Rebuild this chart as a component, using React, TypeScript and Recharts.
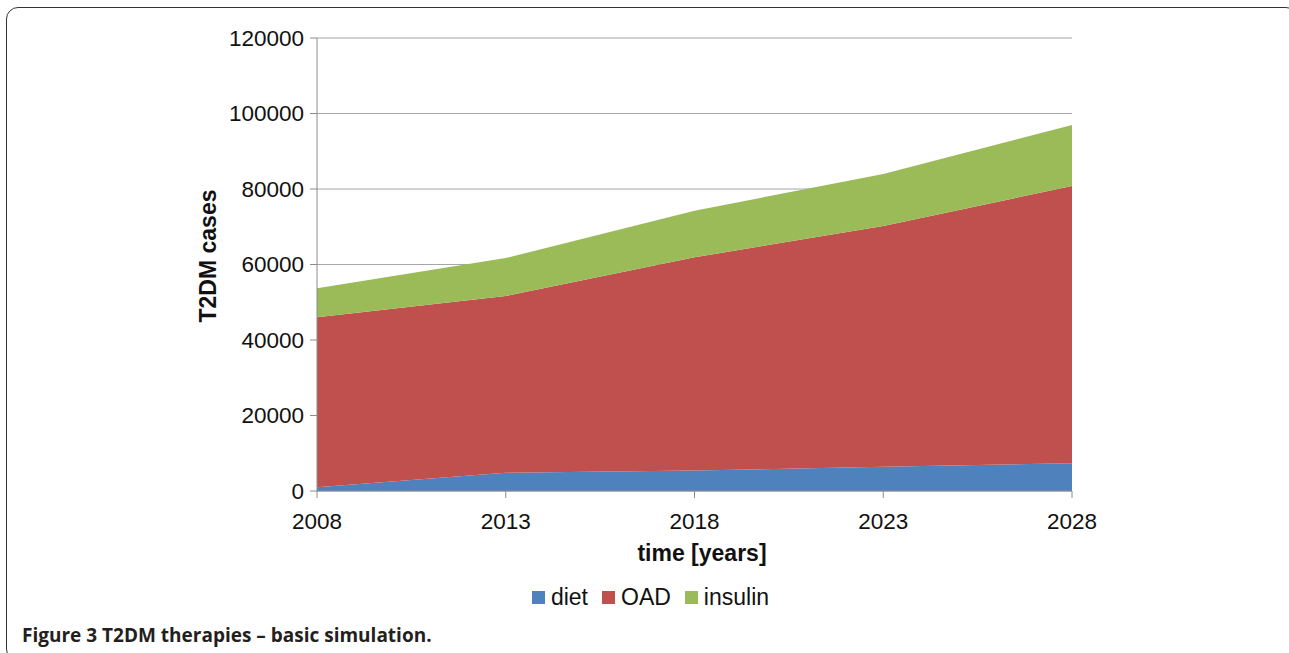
import React from 'react';
import { Area, AreaChart, CartesianGrid, Label, Legend, XAxis, YAxis } from 'recharts';

const YEARS = ['2008', '2013', '2018', '2023', '2028'];
const DIET = [1000, 4850, 5400, 6400, 7350];
const OAD = [45000, 46800, 56500, 63800, 73450];
const INSULIN = [7700, 10050, 12350, 13770, 16150];
const Y_TICKS = [0, 20000, 40000, 60000, 80000, 100000, 120000];

const SERIES = [
    { key: 'diet', name: 'diet', color: '#4f81bd' },
    { key: 'OAD', name: 'OAD', color: '#c0504d' },
    { key: 'insulin', name: 'insulin', color: '#9bbb59' },
];

const data = YEARS.map((year, i) => ({
    year,
    diet: DIET[i],
    OAD: OAD[i],
    insulin: INSULIN[i],
}));

const FONT = '"Liberation Sans", Arial, sans-serif';

function renderLegend() {
    return (
        <div
            style={{
                display: 'flex',
                justifyContent: 'center',
                alignItems: 'center',
                fontFamily: FONT,
                fontSize: 23,
                color: '#111',
            }}
        >
            {SERIES.map((s, i) => (
                <div
                    key={s.key}
                    style={{ display: 'flex', alignItems: 'center', marginLeft: i === 0 ? 0 : 14 }}
                >
                    <span style={{ width: 13, height: 13, background: s.color, marginRight: 6, display: 'inline-block' }} />
                    <span>{s.name}</span>
                </div>
            ))}
        </div>
    );
}

export default function App() {
    return (
        <div
            style={{
                position: 'absolute',
                left: 0,
                top: 0,
                width: 1289,
                height: 653,
                overflow: 'hidden',
                background: '#fff',
            }}
        >
            <div
                style={{
                    position: 'absolute',
                    left: 6,
                    top: 7,
                    width: 1290,
                    height: 652,
                    border: '1.5px solid #333',
                    borderRadius: 12,
                }}
            />
            <div style={{ position: 'absolute', left: 0, top: 0 }}>
                <AreaChart
                    width={1289}
                    height={653}
                    data={data}
                    margin={{ top: 38, right: 217, left: 217, bottom: 82 }}
                >
                    <CartesianGrid vertical={false} stroke="#a6a6a6" strokeWidth={1} />
                    <XAxis
                        dataKey="year"
                        height={80}
                        stroke="#8c8c8c"
                        tickSize={7}
                        tickMargin={15}
                        tick={{ fill: '#111', fontSize: 22.5, fontFamily: FONT }}
                    >
                        <Label
                            content={(props: any) => {
                                const vb = props.viewBox;
                                return (
                                    <text
                                        x={vb.x + vb.width / 2 + 7.5}
                                        y={553}
                                        textAnchor="middle"
                                        dominantBaseline="central"
                                        fontFamily={FONT}
                                        fontSize={23}
                                        fontWeight="bold"
                                        fill="#111"
                                    >
                                        time [years]
                                    </text>
                                );
                            }}
                        />
                    </XAxis>
                    <YAxis
                        width={100}
                        domain={[0, 120000]}
                        ticks={Y_TICKS}
                        interval={0}
                        stroke="#8c8c8c"
                        tickSize={7}
                        tickMargin={6}
                        tick={{ fill: '#111', fontSize: 22.5, fontFamily: FONT }}
                    >
                        <Label
                            content={(props: any) => {
                                const vb = props.viewBox;
                                const cx = vb.x - 9.5;
                                const cy = vb.y + vb.height / 2 - 8.5;
                                return (
                                    <text
                                        x={cx}
                                        y={cy}
                                        transform={`rotate(-90, ${cx}, ${cy})`}
                                        textAnchor="middle"
                                        dominantBaseline="central"
                                        fontFamily={FONT}
                                        fontSize={23}
                                        fontWeight="bold"
                                        fill="#111"
                                    >
                                        T2DM cases
                                    </text>
                                );
                            }}
                        />
                    </YAxis>
                    <Legend
                        layout="horizontal"
                        align="center"
                        verticalAlign="middle"
                        content={renderLegend}
                        wrapperStyle={{ left: 6, top: 584, width: 1289 }}
                    />
                    {SERIES.map((s) => (
                        <Area
                            key={s.key}
                            type="linear"
                            dataKey={s.key}
                            name={s.name}
                            stackId="therapy"
                            fill={s.color}
                            fillOpacity={1}
                            stroke="none"
                            dot={false}
                            activeDot={false}
                            isAnimationActive={false}
                        />
                    ))}
                </AreaChart>
            </div>
            <div
                style={{
                    position: 'absolute',
                    left: 22,
                    top: 622,
                    fontFamily: '"Open Sans", "Noto Sans", sans-serif',
                    fontWeight: 'bold',
                    fontSize: 19,
                    color: '#231f20',
                    whiteSpace: 'nowrap',
                }}
            >
                Figure 3 T2DM therapies – basic simulation.
            </div>
        </div>
    );
}
